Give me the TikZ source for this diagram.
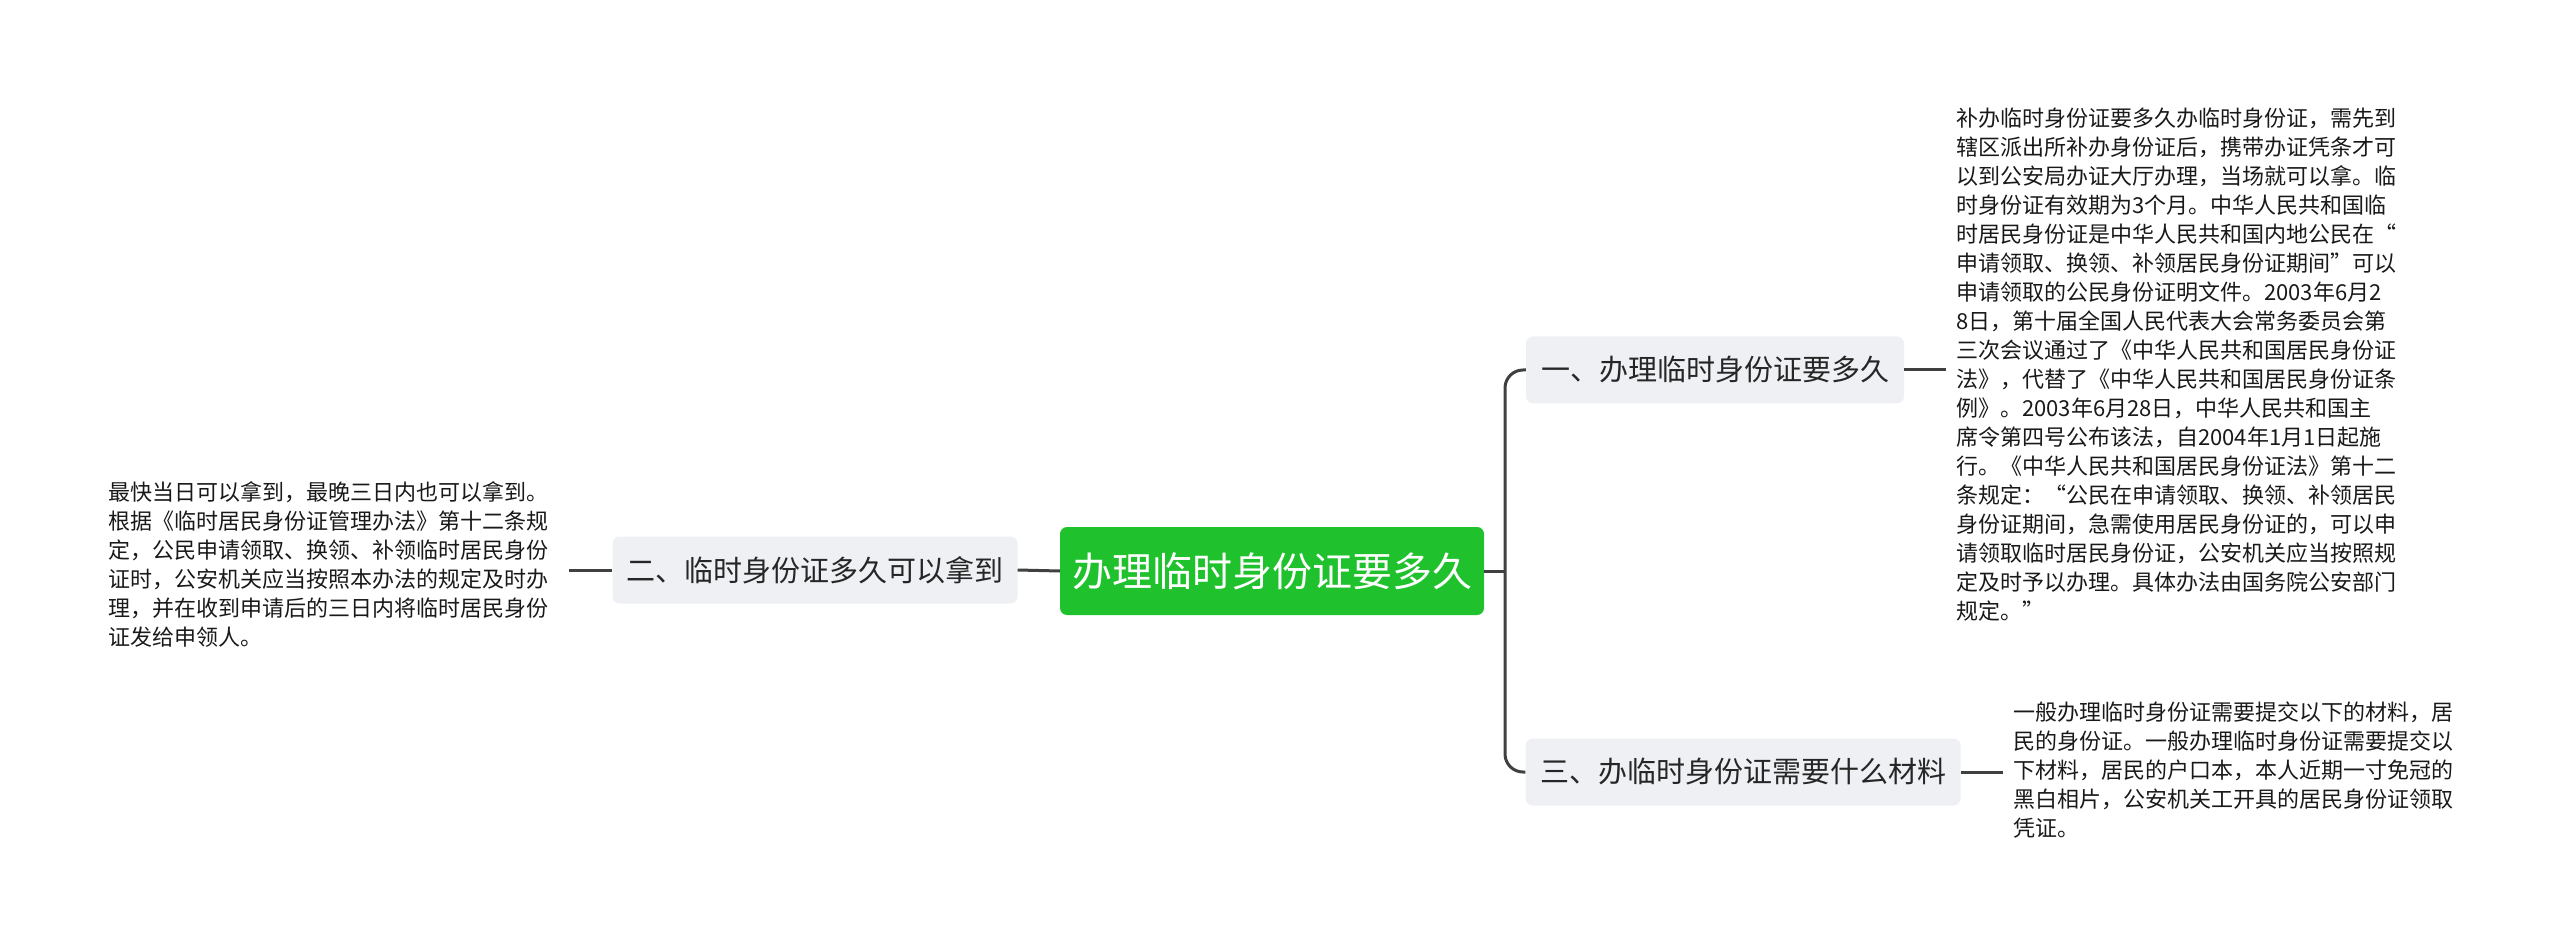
\documentclass[tikz,border=0pt]{standalone}
\usepackage{fontspec}
\setmainfont{Noto Sans CJK SC}
\begin{document}
\begin{tikzpicture}[x=1pt,y=-1pt,
  sub/.style={fill=subbg,rounded corners=7pt,minimum height=67pt,inner xsep=14pt,font=\fontsize{29}{34}\selectfont,text=black!85},
  leaf/.style={align=left,anchor=north west,inner sep=0pt,font=\fontsize{22}{29}\selectfont,text=black!90},
  conn/.style={draw=black!75,line width=3pt}]
\definecolor{subbg}{HTML}{EEF0F4}
\definecolor{rootg}{HTML}{1FC12C}
\useasboundingbox (0,0) rectangle (2560,949);
\node[fill=rootg,rounded corners=7pt,minimum width=424pt,minimum height=88pt,text=white,font=\fontsize{40}{46}\selectfont] (root) at (1272,571) {办理临时身份证要多久};
\node[sub,minimum width=405pt] (b2) at (815,570) {二、临时身份证多久可以拿到};
\node[sub,minimum width=378pt] (b1) at (1715,370) {一、办理临时身份证要多久};
\node[sub,minimum width=435pt] (b3) at (1743,772) {三、办临时身份证需要什么材料};
\node[leaf] (t1) at (1956,108) {补办临时身份证要多久办临时身份证，需先到\\辖区派出所补办身份证后，携带办证凭条才可\\以到公安局办证大厅办理，当场就可以拿。临\\时身份证有效期为3个月。中华人民共和国临\\时居民身份证是中华人民共和国内地公民在“\\申请领取、换领、补领居民身份证期间”可以\\申请领取的公民身份证明文件。2003年6月2\\8日，第十届全国人民代表大会常务委员会第\\三次会议通过了《中华人民共和国居民身份证\\法》，代替了《中华人民共和国居民身份证条\\例》。2003年6月28日，中华人民共和国主\\席令第四号公布该法，自2004年1月1日起施\\行。《中华人民共和国居民身份证法》第十二\\条规定：“公民在申请领取、换领、补领居民\\身份证期间，急需使用居民身份证的，可以申\\请领取临时居民身份证，公安机关应当按照规\\定及时予以办理。具体办法由国务院公安部门\\规定。”};
\node[leaf] (t2) at (108,481) {最快当日可以拿到，最晚三日内也可以拿到。\\根据《临时居民身份证管理办法》第十二条规\\定，公民申请领取、换领、补领临时居民身份\\证时，公安机关应当按照本办法的规定及时办\\理，并在收到申请后的三日内将临时居民身份\\证发给申领人。};
\node[leaf] (t3) at (2013,702) {一般办理临时身份证需要提交以下的材料，居\\民的身份证。一般办理临时身份证需要提交以\\下材料，居民的户口本，本人近期一寸免冠的\\黑白相片，公安机关工开具的居民身份证领取\\凭证。};
\coordinate (j) at (1505,571);
\draw[conn] (root.east) -- (j);
\draw[conn,rounded corners=18pt] (j) -- (1505,370) -- (b1.west);
\draw[conn,rounded corners=18pt] (j) -- (1505,772) -- (b3.west);
\draw[conn] (root.west) -- (b2.east);
\draw[conn] (b2.west) -- (569,570);
\draw[conn] (b1.east) -- (1946,370);
\draw[conn] (b3.east) -- (2003,772);
\end{tikzpicture}
\end{document}
